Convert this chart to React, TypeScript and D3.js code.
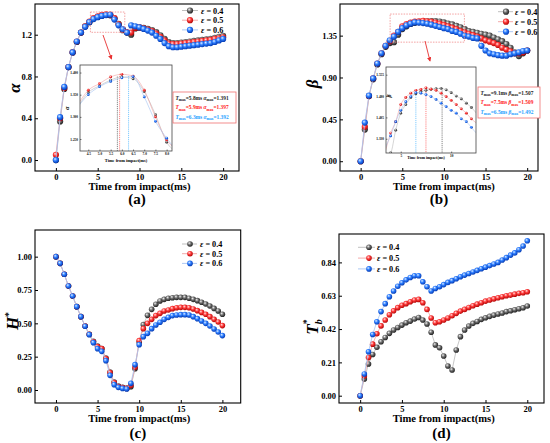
import React, { useEffect, useRef } from "react";
import * as d3 from "d3";

// time from impact (ms)
const times = [0, 0.5, 1, 1.5, 2, 2.5, 3, 3.5, 4, 4.5, 5, 5.5, 6, 6.5, 7, 7.5, 8, 8.5, 9, 9.5, 10, 10.5, 11, 11.5, 12, 12.5, 13, 13.5, 14, 14.5, 15, 15.5, 16, 16.5, 17, 17.5, 18, 18.5, 19, 19.5, 20];
const epsilons = ["0.4", "0.5", "0.6"];

// (a) alpha
const alpha04 = [0, 0.37, 0.68, 0.89, 1.03, 1.13, 1.22, 1.28, 1.32, 1.355, 1.37, 1.383, 1.39, 1.386, 1.357, 1.305, 1.243, 1.22, 1.2, 1.26, 1.27, 1.265, 1.255, 1.245, 1.225, 1.195, 1.16, 1.13, 1.12, 1.12, 1.125, 1.13, 1.135, 1.14, 1.145, 1.15, 1.155, 1.16, 1.17, 1.18, 1.19];
const alpha05 = [0.05, 0.4, 0.69, 0.89, 1.03, 1.135, 1.22, 1.28, 1.325, 1.36, 1.375, 1.39, 1.396, 1.392, 1.36, 1.3, 1.248, 1.225, 1.22, 1.265, 1.27, 1.26, 1.25, 1.235, 1.21, 1.18, 1.145, 1.115, 1.11, 1.11, 1.115, 1.12, 1.125, 1.13, 1.135, 1.14, 1.145, 1.15, 1.16, 1.165, 1.175];
const alpha06 = [0, 0.41, 0.7, 0.89, 1.03, 1.135, 1.22, 1.275, 1.32, 1.35, 1.368, 1.38, 1.388, 1.391, 1.345, 1.29, 1.252, 1.22, 1.29, 1.28, 1.27, 1.255, 1.24, 1.22, 1.19, 1.16, 1.12, 1.09, 1.08, 1.08, 1.085, 1.09, 1.095, 1.1, 1.105, 1.11, 1.115, 1.12, 1.13, 1.145, 1.16];

// (b) beta
const beta04 = [0, 0.34, 0.7, 0.88, 1.04, 1.15, 1.23, 1.27, 1.28, 1.36, 1.42, 1.45, 1.475, 1.488, 1.496, 1.5, 1.504, 1.506, 1.507, 1.502, 1.492, 1.48, 1.47, 1.455, 1.44, 1.42, 1.4, 1.39, 1.38, 1.37, 1.36, 1.35, 1.33, 1.31, 1.29, 1.26, 1.22, 1.17, 1.13, 1.16, 1.19];
const beta05 = [0, 0.37, 0.7, 0.89, 1.05, 1.16, 1.24, 1.29, 1.35, 1.39, 1.45, 1.475, 1.49, 1.5, 1.503, 1.509, 1.504, 1.5, 1.49, 1.478, 1.465, 1.45, 1.435, 1.42, 1.4, 1.385, 1.37, 1.355, 1.34, 1.32, 1.3, 1.285, 1.27, 1.25, 1.22, 1.2, 1.18, 1.16, 1.16, 1.17, 1.19];
const beta06 = [0, 0.415, 0.705, 0.89, 1.05, 1.16, 1.24, 1.3, 1.34, 1.39, 1.43, 1.46, 1.478, 1.492, 1.49, 1.485, 1.478, 1.468, 1.455, 1.443, 1.43, 1.42, 1.4, 1.39, 1.37, 1.35, 1.34, 1.325, 1.32, 1.24, 1.19, 1.16, 1.15, 1.14, 1.135, 1.135, 1.15, 1.16, 1.17, 1.185, 1.19];

// (c) H*
const h04 = [1, 0.95, 0.868, 0.78, 0.705, 0.625, 0.55, 0.48, 0.418, 0.365, 0.33, 0.31, 0.24, 0.135, 0.06, 0.03, 0.02, 0.015, 0.025, 0.16, 0.36, 0.49, 0.56, 0.605, 0.643, 0.668, 0.68, 0.688, 0.692, 0.695, 0.695, 0.695, 0.688, 0.68, 0.67, 0.658, 0.645, 0.63, 0.612, 0.593, 0.568];
const h05 = [1, 0.95, 0.868, 0.78, 0.705, 0.625, 0.55, 0.48, 0.418, 0.362, 0.325, 0.31, 0.235, 0.13, 0.055, 0.025, 0.018, 0.012, 0.035, 0.17, 0.37, 0.46, 0.5, 0.53, 0.558, 0.575, 0.593, 0.6, 0.61, 0.617, 0.62, 0.62, 0.617, 0.608, 0.595, 0.582, 0.568, 0.55, 0.53, 0.51, 0.483];
const h06 = [1, 0.95, 0.868, 0.78, 0.705, 0.625, 0.55, 0.478, 0.415, 0.355, 0.31, 0.29, 0.22, 0.11, 0.04, 0.02, 0.012, 0.008, 0.05, 0.19, 0.34, 0.4, 0.425, 0.46, 0.488, 0.508, 0.53, 0.545, 0.558, 0.563, 0.565, 0.565, 0.563, 0.55, 0.535, 0.518, 0.5, 0.48, 0.458, 0.435, 0.408];

// (d) Tb*
const tb04 = [0, 0.105, 0.2, 0.26, 0.305, 0.34, 0.367, 0.393, 0.414, 0.43, 0.445, 0.46, 0.47, 0.483, 0.493, 0.477, 0.452, 0.4, 0.32, 0.302, 0.25, 0.187, 0.162, 0.288, 0.372, 0.414, 0.439, 0.456, 0.468, 0.481, 0.491, 0.5, 0.508, 0.515, 0.521, 0.53, 0.535, 0.542, 0.548, 0.554, 0.565];
const tb05 = [0, 0.124, 0.24, 0.325, 0.39, 0.44, 0.477, 0.51, 0.535, 0.555, 0.57, 0.58, 0.592, 0.603, 0.607, 0.586, 0.544, 0.49, 0.46, 0.466, 0.477, 0.49, 0.504, 0.519, 0.533, 0.544, 0.556, 0.567, 0.577, 0.586, 0.596, 0.603, 0.61, 0.617, 0.624, 0.63, 0.634, 0.64, 0.645, 0.649, 0.655];
const tb06 = [0, 0.137, 0.277, 0.386, 0.466, 0.53, 0.58, 0.624, 0.66, 0.69, 0.712, 0.73, 0.745, 0.756, 0.756, 0.718, 0.687, 0.66, 0.676, 0.687, 0.7, 0.714, 0.725, 0.737, 0.75, 0.76, 0.77, 0.78, 0.79, 0.8, 0.81, 0.82, 0.83, 0.84, 0.855, 0.87, 0.886, 0.9, 0.92, 0.943, 0.976];

// tick values
const xTicks = [0, 5, 10, 15, 20];
const alphaTicks = [0, 0.4, 0.8, 1.2];
const betaTicks = [0, 0.45, 0.9, 1.35];
const hTicks = [0, 0.25, 0.5, 0.75, 1];
const tbTicks = [0, 0.21, 0.42, 0.63, 0.84];
const insetAlphaXTicks = [4.5, 5, 5.5, 6, 6.5, 7, 7.5, 8];
const insetAlphaYTicks = [1.25, 1.3, 1.35, 1.4];
const insetBetaXTicks = [5, 10];
const insetBetaYTicks = [1.33, 1.405, 1.48, 1.555];

// peak annotations
const alphaTmax = ["5.8", "5.9", "6.3"];
const alphaMax = ["1.391", "1.397", "1.392"];
const betaTmax = ["9.1", "7.5", "6.5"];
const betaMax = ["1.507", "1.509", "1.492"];

const FONT = "'Liberation Serif','Times New Roman',serif";

const palette = [
  { id: "ballK", hi: "#f4f4f4", mid: "#707070", lo: "#1a1a1a", line: "#b8b8b8", text: "#222", dash: "#333" },
  { id: "ballR", hi: "#ffe4e4", mid: "#ff3d3d", lo: "#b00000", line: "#f2a2a2", text: "#ff2020", dash: "#ff3030" },
  { id: "ballB", hi: "#e2f0ff", mid: "#2f7fff", lo: "#0036b0", line: "#a4c2f2", text: "#1ea0ff", dash: "#2aa8ff" },
];

type Sel = d3.Selection<any, unknown, null, undefined>;

function styleAxis(ax: Sel, size: number) {
  ax.select(".domain").remove();
  ax.selectAll("line").attr("stroke", "#000").attr("stroke-width", 1);
  ax.selectAll("text")
    .attr("fill", "#000")
    .attr("font-family", FONT)
    .attr("font-weight", "bold")
    .attr("font-size", size);
  ax.attr("font-family", null).attr("font-size", null);
}

function drawTitle(g: Sel, kind: string, cx: number, cy: number) {
  const t = g
    .append("text")
    .attr("transform", `translate(${cx},${cy}) rotate(-90)`)
    .attr("text-anchor", "middle")
    .attr("font-family", FONT)
    .attr("font-weight", "bold")
    .attr("font-style", "italic")
    .attr("font-size", 17)
    .attr("fill", "#000");
  if (kind === "alpha") t.text("α");
  if (kind === "beta") t.text("β");
  if (kind === "h") {
    t.append("tspan").text("H");
    t.append("tspan").attr("dy", -6).attr("font-size", 10).attr("font-style", "normal").text("*");
  }
  if (kind === "tb") {
    t.append("tspan").text("T");
    t.append("tspan").attr("dy", 4).attr("font-size", 10).text("b");
    t.append("tspan").attr("dx", -5).attr("dy", -12).attr("font-size", 10).attr("font-style", "normal").text("*");
  }
}

function drawPanel(svg: Sel, p: any) {
  const g = svg.append("g");
  const x = d3.scaleLinear().domain(p.xDomain).range([p.left, p.right]);
  const y = d3.scaleLinear().domain(p.yDomain).range([p.bottom, p.top]);

  const xa = g
    .append("g")
    .attr("transform", `translate(0,${p.bottom})`)
    .call(d3.axisBottom(x).tickValues(xTicks).tickFormat(d3.format("d")).tickSizeInner(-3).tickSizeOuter(0).tickPadding(2.5));
  styleAxis(xa, 8.5);
  const ya = g
    .append("g")
    .attr("transform", `translate(${p.left},0)`)
    .call(d3.axisLeft(y).tickValues(p.yTicks).tickFormat(d3.format(p.fmt)).tickSizeInner(-3).tickSizeOuter(0).tickPadding(3));
  styleAxis(ya, 8.5);

  g.append("rect")
    .attr("x", p.left)
    .attr("y", p.top)
    .attr("width", p.right - p.left)
    .attr("height", p.bottom - p.top)
    .attr("fill", "none")
    .attr("stroke", "#000")
    .attr("stroke-width", 1.1);

  const line = d3
    .line<number>()
    .x((_, i) => x(times[i]))
    .y((d) => y(d));

  p.series.forEach((vals: number[], s: number) => {
    const c = palette[s];
    g.append("path").datum(vals).attr("fill", "none").attr("stroke", c.line).attr("stroke-width", 0.8).attr("d", line);
    g.selectAll(null)
      .data(vals)
      .enter()
      .append("circle")
      .attr("cx", (_, i) => x(times[i]))
      .attr("cy", (d) => y(d))
      .attr("r", p.r)
      .attr("fill", `url(#${c.id})`);
  });

  // legend
  const L = p.legend;
  epsilons.forEach((e, s) => {
    const c = palette[s];
    const ly = L.y0 + s * L.dy;
    g.append("line").attr("x1", L.x0).attr("x2", L.x1).attr("y1", ly).attr("y2", ly).attr("stroke", c.line).attr("stroke-width", 0.9);
    g.append("circle").attr("cx", L.mx).attr("cy", ly).attr("r", p.r).attr("fill", `url(#${c.id})`);
    const t = g
      .append("text")
      .attr("x", L.tx)
      .attr("y", ly + 3)
      .attr("font-family", FONT)
      .attr("font-weight", "bold")
      .attr("font-size", 8.2)
      .attr("fill", "#000");
    t.append("tspan").attr("font-style", "italic").text("ε");
    t.append("tspan").text(` = ${e}`);
  });

  drawTitle(g, p.title, p.titleX, p.titleY);

  g.append("text")
    .attr("x", x(10))
    .attr("y", p.labelY)
    .attr("text-anchor", "middle")
    .attr("font-family", FONT)
    .attr("font-weight", "bold")
    .attr("font-size", 10.6)
    .text("Time from impact(ms)");

  g.append("text")
    .attr("x", (p.left + p.right) / 2)
    .attr("y", p.letterY)
    .attr("text-anchor", "middle")
    .attr("font-family", FONT)
    .attr("font-weight", "bold")
    .attr("font-size", 15)
    .text(p.letter);

  if (p.inset) drawInset(svg, p, p.inset, x, y);
}

function drawInset(svg: Sel, p: any, ins: any, mx: any, my: any) {
  const g = svg.append("g");
  // dashed zoom box on the main plot, built from the inset domain
  g.append("rect")
    .attr("x", mx(ins.xDomain[0]))
    .attr("y", my(ins.yDomain[1]))
    .attr("width", mx(ins.xDomain[1]) - mx(ins.xDomain[0]))
    .attr("height", my(ins.yDomain[0]) - my(ins.yDomain[1]))
    .attr("fill", "none")
    .attr("stroke", "#f08a8a")
    .attr("stroke-width", 0.8)
    .attr("stroke-dasharray", "1.5,1.2");
  g.append("line")
    .attr("x1", ins.arrow[0])
    .attr("y1", ins.arrow[1])
    .attr("x2", ins.arrow[2])
    .attr("y2", ins.arrow[3])
    .attr("stroke", "#e83030")
    .attr("stroke-width", 0.9)
    .attr("marker-end", "url(#arrowHead)");

  const x = d3.scaleLinear().domain(ins.xDomain).range([ins.left, ins.right]);
  const y = d3.scaleLinear().domain(ins.yDomain).range([ins.bottom, ins.top]);

  g.append("rect")
    .attr("x", ins.left)
    .attr("y", ins.top)
    .attr("width", ins.right - ins.left)
    .attr("height", ins.bottom - ins.top)
    .attr("fill", "#fff");

  const clipId = `clip-${p.title}`;
  svg
    .select("defs")
    .append("clipPath")
    .attr("id", clipId)
    .append("rect")
    .attr("x", ins.left)
    .attr("y", ins.top)
    .attr("width", ins.right - ins.left)
    .attr("height", ins.bottom - ins.top);

  const plot = g.append("g").attr("clip-path", `url(#${clipId})`);

  const pts = (vals: number[]) =>
    times.map((t, i) => [t, vals[i]] as [number, number]).filter((d) => d[0] >= ins.xDomain[0] - 0.6 && d[0] <= ins.xDomain[1] + 0.6);
  const curve = d3
    .line<[number, number]>()
    .x((d) => x(d[0]))
    .y((d) => y(d[1]))
    .curve(d3.curveMonotoneX);

  // peak markers
  ins.tmax.forEach((tm: string, s: number) => {
    plot
      .append("line")
      .attr("x1", x(+tm))
      .attr("x2", x(+tm))
      .attr("y1", y(+ins.vmax[s]))
      .attr("y2", ins.bottom)
      .attr("stroke", palette[s].dash)
      .attr("stroke-width", 0.6)
      .attr("stroke-dasharray", "1.2,0.9");
  });

  p.series.forEach((vals: number[], s: number) => {
    const c = palette[s];
    const d = pts(vals);
    plot.append("path").datum(d).attr("fill", "none").attr("stroke", c.line).attr("stroke-width", 0.6).attr("d", curve);
    plot
      .selectAll(null)
      .data(d.filter((q) => q[0] >= ins.xDomain[0] && q[0] <= ins.xDomain[1]))
      .enter()
      .append("circle")
      .attr("cx", (q) => x(q[0]))
      .attr("cy", (q) => y(q[1]))
      .attr("r", 1.4)
      .attr("fill", `url(#${c.id})`);
  });

  g.append("rect")
    .attr("x", ins.left)
    .attr("y", ins.top)
    .attr("width", ins.right - ins.left)
    .attr("height", ins.bottom - ins.top)
    .attr("fill", "none")
    .attr("stroke", "#444")
    .attr("stroke-width", 0.8);

  const xa = g
    .append("g")
    .attr("transform", `translate(0,${ins.bottom})`)
    .call(d3.axisBottom(x).tickValues(ins.xTicks).tickFormat(d3.format(ins.xFmt)).tickSizeInner(-1.5).tickSizeOuter(0).tickPadding(1.5));
  styleAxis(xa, 3.4);
  xa.selectAll("line").attr("stroke-width", 0.5);
  const ya = g
    .append("g")
    .attr("transform", `translate(${ins.left},0)`)
    .call(d3.axisLeft(y).tickValues(ins.yTicks).tickFormat(d3.format(".3f")).tickSizeInner(-1.5).tickSizeOuter(0).tickPadding(2));
  styleAxis(ya, 3.4);
  ya.selectAll("line").attr("stroke-width", 0.5);

  g.append("text")
    .attr("x", ins.labelX)
    .attr("y", ins.labelY)
    .attr("text-anchor", "middle")
    .attr("font-family", FONT)
    .attr("font-weight", "bold")
    .attr("font-size", ins.labelSize)
    .text("Time from impact(ms)");
  g.append("text")
    .attr("transform", `translate(${ins.titleX},${ins.titleY}) rotate(-90)`)
    .attr("text-anchor", "middle")
    .attr("font-family", FONT)
    .attr("font-weight", "bold")
    .attr("font-style", "italic")
    .attr("font-size", 6)
    .text(ins.sym);

  // peak legend box
  const B = ins.box;
  g.append("rect")
    .attr("x", B[0])
    .attr("y", B[1])
    .attr("width", B[2])
    .attr("height", B[3])
    .attr("fill", "#fff")
    .attr("stroke", "#f07070")
    .attr("stroke-width", 0.8);
  ins.tmax.forEach((tm: string, s: number) => {
    const t = g
      .append("text")
      .attr("x", B[0] + 2.5)
      .attr("y", B[1] + 7.5 + s * 9.6)
      .attr("font-family", FONT)
      .attr("font-weight", "bold")
      .attr("font-size", 5.4)
      .attr("fill", palette[s].text);
    t.append("tspan").attr("font-style", "italic").text("T");
    t.append("tspan").attr("dy", 1.4).attr("font-size", 3.8).text("max");
    t.append("tspan").attr("dy", -1.4).text(`=${tm}ms  `);
    t.append("tspan").attr("font-style", "italic").text(ins.sym);
    t.append("tspan").attr("dy", 1.4).attr("font-size", 3.8).text("max");
    t.append("tspan").attr("dy", -1.4).text(`=${ins.vmax[s]}`);
  });
}

const panels = [
  {
    letter: "(a)", title: "alpha", series: [alpha04, alpha05, alpha06], yTicks: alphaTicks, fmt: ".1f",
    left: 35, top: 4, right: 239, bottom: 171, xDomain: [-2.5, 21.9], yDomain: [-0.105, 1.494],
    titleX: 20, titleY: 88, labelY: 189.5, letterY: 204, r: 3.1,
    legend: { x0: 182, x1: 198, mx: 190, tx: 201, y0: 10.5, dy: 9.7 },
    inset: {
      left: 80, top: 65, right: 172, bottom: 151, xDomain: [4.13, 8.24], yDomain: [1.223, 1.417],
      xTicks: insetAlphaXTicks, xFmt: ".1f", yTicks: insetAlphaYTicks, labelX: 126, labelY: 161.5, labelSize: 4.4,
      titleX: 69, titleY: 108,
      sym: "α", tmax: alphaTmax, vmax: alphaMax, box: [173, 92, 63, 31], arrow: [103, 35, 111.5, 59],
    },
  },
  {
    letter: "(b)", title: "beta", series: [beta04, beta05, beta06], yTicks: betaTicks, fmt: ".2f",
    left: 340, top: 4, right: 538, bottom: 171, xDomain: [-2.48, 21.3], yDomain: [-0.105, 1.69],
    titleX: 318, titleY: 84, labelY: 189.5, letterY: 204, r: 3.1,
    legend: { x0: 498, x1: 513, mx: 506, tx: 515, y0: 11.7, dy: 10 },
    inset: {
      left: 386, top: 67, right: 476, bottom: 153, xDomain: [3.54, 12.46], yDomain: [1.28, 1.582],
      xTicks: insetBetaXTicks, xFmt: "d", yTicks: insetBetaYTicks, labelX: 426, labelY: 158.8, labelSize: 3.9,
      titleX: 390.5, titleY: 96,
      sym: "β", tmax: betaTmax, vmax: betaMax, box: [478, 87, 62, 31], arrow: [425, 41, 430, 61],
    },
  },
  {
    letter: "(c)", title: "h", series: [h04, h05, h06], yTicks: hTicks, fmt: ".2f",
    left: 35, top: 230, right: 240.7, bottom: 403, xDomain: [-2.52, 22.2], yDomain: [-0.0975, 1.2],
    titleX: 18, titleY: 321, labelY: 422, letterY: 438, r: 2.8,
    legend: { x0: 182, x1: 197, mx: 190, tx: 200, y0: 244, dy: 9.7 },
  },
  {
    letter: "(d)", title: "tb", series: [tb04, tb05, tb06], yTicks: tbTicks, fmt: ".2f",
    left: 339, top: 234, right: 544, bottom: 403, xDomain: [-2.53, 22.0], yDomain: [-0.046, 1.019],
    titleX: 318, titleY: 327, labelY: 422, letterY: 438, r: 2.8,
    legend: { x0: 358, x1: 375, mx: 369, tx: 377, y0: 247.3, dy: 10.8 },
  },
];

export default function App() {
  const svgRef = useRef<SVGSVGElement | null>(null);

  useEffect(() => {
    if (!svgRef.current) return;
    const svg = d3.select(svgRef.current);
    svg.selectAll("*").remove();

    const defs = svg.append("defs");
    palette.forEach((c) => {
      const grad = defs
        .append("radialGradient")
        .attr("id", c.id)
        .attr("cx", "42%")
        .attr("cy", "40%")
        .attr("r", "62%")
        .attr("fx", "36%")
        .attr("fy", "33%");
      grad.append("stop").attr("offset", "0%").attr("stop-color", c.hi);
      grad.append("stop").attr("offset", "45%").attr("stop-color", c.mid);
      grad.append("stop").attr("offset", "100%").attr("stop-color", c.lo);
    });
    defs
      .append("marker")
      .attr("id", "arrowHead")
      .attr("viewBox", "0 0 6 6")
      .attr("refX", 5)
      .attr("refY", 3)
      .attr("markerWidth", 5)
      .attr("markerHeight", 5)
      .attr("orient", "auto")
      .append("path")
      .attr("d", "M0,0 L6,3 L0,6 z")
      .attr("fill", "#e83030");

    panels.forEach((p) => drawPanel(svg as any, p));
  }, []);

  return (
    <svg
      ref={svgRef}
      width={550}
      height={443}
      style={{ position: "absolute", left: 0, top: 0, background: "#fff" }}
    ></svg>
  );
}
